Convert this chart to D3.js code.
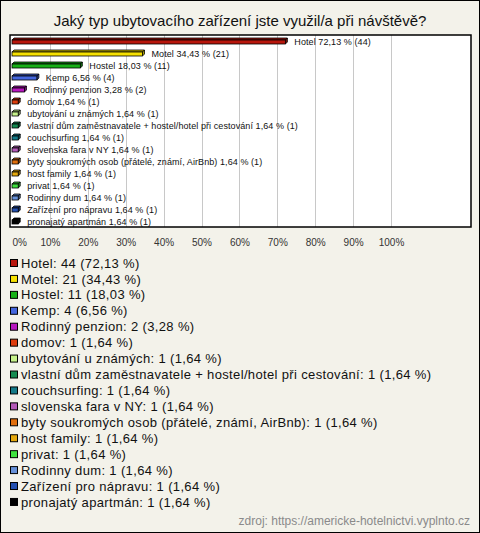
<!DOCTYPE html>
<html><head><meta charset="utf-8">
<script src="https://cdn.jsdelivr.net/npm/d3@7"></script>
<style>
html,body{margin:0;padding:0;background:#f3f2ea;}
svg{display:block;font-family:"Liberation Sans",Arial,sans-serif;}
</style></head>
<body>
<svg id="c" width="480" height="533"></svg>
<script>
const title = "Jaký typ ubytovacího zařízení jste využil/a při návštěvě?";
const categories = ["Hotel","Motel","Hostel","Kemp","Rodinný penzion","domov","ubytování u známých","vlastní dům zaměstnavatele + hostel/hotel při cestování","couchsurfing","slovenska fara v NY","byty soukromých osob (přátelé, známí, AirBnb)","host family","privat","Rodinny dum","Zařízení pro nápravu","pronajatý apartmán"];
const counts = [44,21,11,4,2,1,1,1,1,1,1,1,1,1,1,1];
const percents = [72.13,34.43,18.03,6.56,3.28,1.64,1.64,1.64,1.64,1.64,1.64,1.64,1.64,1.64,1.64,1.64];
const colors = ["#b8160c","#f5e000","#16b016","#4466dd","#b818c0","#dd3c0c","#c6f28a","#148a50","#147a88","#b45ab8","#e06e0c","#e4a80c","#3ee03e","#6690d8","#2450b0","#000000"];
const tickValues = [0,10,20,30,40,50,60,70,80,90,100];
const source = "zdroj: https://americke-hotelnictvi.vyplnto.cz";
const fmt = v => v.toFixed(2).replace(".", ",");

const svg = d3.select("#c");
svg.append("rect").attr("x",0.5).attr("y",0.5).attr("width",479).attr("height",532)
  .attr("fill","#f3f2ea").attr("stroke","#000");

svg.append("text").attr("x",240).attr("y",25.5).attr("text-anchor","middle")
  .attr("font-size",15).attr("fill","#111").text(title);

const plot = {l:10, t:35, r:471, b:227};
svg.append("rect").attr("x",plot.l).attr("y",plot.t).attr("width",plot.r-plot.l).attr("height",plot.b-plot.t)
  .attr("fill","#fff");

const x = d3.scaleLinear().domain([0,100]).range([12,391]);
const y = d3.scaleBand().domain(categories).range([plot.t, plot.b]);

svg.append("g").selectAll("line").data(tickValues.slice(1)).join("line")
  .attr("x1",d=>Math.round(x(d))+0.5).attr("x2",d=>Math.round(x(d))+0.5)
  .attr("y1",plot.t).attr("y2",plot.b).attr("stroke","#c8c8c8");

const rows = categories.map((c,i)=>({c, n:counts[i], p:percents[i], col:colors[i]}));
const g = svg.append("g");
const dep = 2, h = 4;
rows.forEach(r=>{
  const cy = y(r.c) + y.bandwidth()/2;
  const x0 = x(0), x1 = x(r.p);
  const top = cy - 1;
  const col = d3.color(r.col);
  g.append("path").attr("d",`M${x0},${top} L${x0+dep},${top-dep} L${x1+dep},${top-dep} L${x1},${top} Z`)
    .attr("fill",col.darker(0.6)).attr("stroke","#000").attr("stroke-width",0.8);
  g.append("path").attr("d",`M${x1},${top} L${x1+dep},${top-dep} L${x1+dep},${top+h-dep} L${x1},${top+h} Z`)
    .attr("fill",col.darker(1)).attr("stroke","#000").attr("stroke-width",0.8);
  g.append("rect").attr("x",x0).attr("y",top).attr("width",x1-x0).attr("height",h)
    .attr("fill",r.col).attr("stroke","#000").attr("stroke-width",0.8);
  g.append("text").attr("x",x1+9).attr("y",cy+3.5).attr("font-size",9).attr("fill","#111")
    .attr("letter-spacing",0.08)
    .text(`${r.c} ${fmt(r.p)} % (${r.n})`);
});

svg.append("rect").attr("x",plot.l).attr("y",plot.t).attr("width",plot.r-plot.l).attr("height",plot.b-plot.t)
  .attr("fill","none").attr("stroke","#000").attr("stroke-width",1.5);

const ax = svg.append("g").attr("transform",`translate(0,${plot.b})`)
  .call(d3.axisBottom(x).tickValues(tickValues).tickFormat(d=>d+"%").tickSize(0).tickPadding(12));
ax.select(".domain").remove();
ax.selectAll("text").attr("font-size",10).attr("font-family","Liberation Sans, Arial, sans-serif").attr("fill","#333");
ax.selectAll(".tick").filter(d=>d===0).select("text").attr("text-anchor","start");

const lg = svg.append("g");
rows.forEach((r,i)=>{
  const cy = 263 + i*15.93;
  lg.append("rect").attr("x",10.5).attr("y",cy-3.5).attr("width",7).attr("height",7)
    .attr("fill",r.col).attr("stroke","#000").attr("stroke-width",1);
  lg.append("text").attr("x",21).attr("y",cy+4.6).attr("font-size",13).attr("fill","#111")
    .attr("letter-spacing",0.35)
    .text(`${r.c}: ${r.n} (${fmt(r.p)} %)`);
});

svg.append("text").attr("x",470).attr("y",525).attr("text-anchor","end")
  .attr("font-size",12).attr("fill","#8a8a8a").text(source);
</script>
</body></html>
